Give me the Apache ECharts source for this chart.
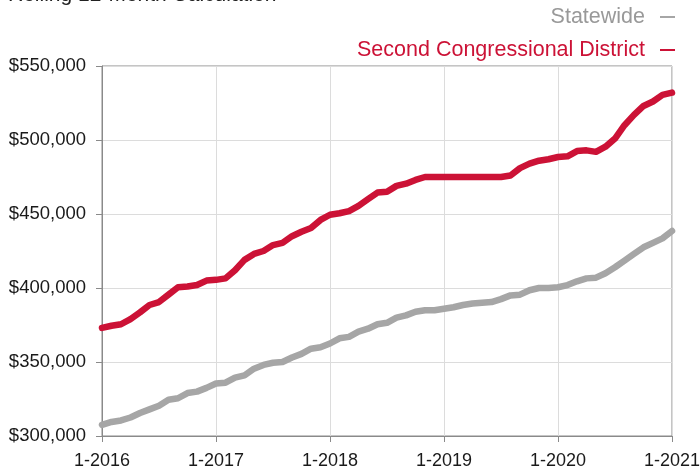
<!DOCTYPE html>
<html>
<head>
<meta charset="utf-8">
<script src="https://cdn.jsdelivr.net/npm/echarts@6/dist/echarts.min.js"></script>
<style>html,body{margin:0;padding:0;background:#fff;}#c{width:700px;height:468px;}</style>
</head>
<body>
<div id="c"></div>
<script>
var titleText = 'Rolling 12-Month Calculation';
var seriesNames = ['Statewide', 'Second Congressional District'];
var years = [2016, 2017, 2018, 2019, 2020, 2021];
var yTicks = [300000, 350000, 400000, 450000, 500000, 550000];

var statewide = [
  307500, 309500, 310500, 312500, 315500, 318000, 320500, 324500, 325500, 329000, 330000, 332500,
  335500, 336000, 339500, 341000, 345500, 348000, 349500, 350000, 353000, 355500, 359000, 360000,
  362500, 366000, 367000, 370500, 372500, 375500, 376500, 380000, 381500, 384000, 385000, 385000,
  386000, 387000, 388500, 389500, 390000, 390500, 392500, 395000, 395500, 398500, 400000, 400000,
  400500, 402000, 404500, 406500, 407000, 410000, 414000, 418500, 423000, 427500, 430500, 433500,
  438500
];
var district = [
  373000, 374500, 375500, 379000, 383500, 388500, 390500, 395500, 400500, 401000, 402000, 405000,
  405500, 406500, 412000, 419000, 423000, 425000, 429000, 430500, 435000, 438000, 440500, 446000,
  449500, 450500, 452000, 455500, 460000, 464500, 465000, 469000, 470500, 473000, 475000, 475000,
  475000, 475000, 475000, 475000, 475000, 475000, 475000, 476000, 481000, 484000, 486000, 487000,
  488500, 489000, 492500, 493000, 492000, 495500, 501000, 510000, 517000, 523000, 526000, 530500,
  532000
];

// monthly categories "M-YYYY"
var months = [];
for (var y = years[0]; y < years[years.length - 1]; y++) {
  for (var m = 1; m <= 12; m++) months.push(m + '-' + y);
}
months.push('1-' + years[years.length - 1]);

var RED = '#cc1236', GRAY = '#a6a6a6';
var FONT = '"Liberation Sans", Arial, sans-serif';

var chart = echarts.init(document.getElementById('c'));
chart.setOption({
  animation: false,
  backgroundColor: '#fff',
  title: {
    text: titleText, left: 3, top: -20,
    textStyle: { fontFamily: FONT, fontSize: 21, fontWeight: 'normal', color: '#222' }
  },
  legend: {
    orient: 'vertical', right: 25, top: 6, padding: 0, align: 'right', itemGap: 11,
    icon: 'rect', itemWidth: 15, itemHeight: 2,
    textStyle: { fontFamily: FONT, fontSize: 21.5, padding: [0, 10, 0, 0] },
    data: [
      { name: seriesNames[0], textStyle: { color: '#999999' } },
      { name: seriesNames[1], textStyle: { color: RED } }
    ]
  },
  grid: {
    left: 102, right: 28, top: 66, bottom: 32, containLabel: false, outerBoundsMode: 'none',
    show: true, borderColor: '#8a8a8a', borderWidth: 1
  },
  xAxis: {
    type: 'category', data: months, boundaryGap: false,
    axisLine: { lineStyle: { color: '#8a8a8a', width: 1 } },
    axisTick: { show: true, interval: 11, length: 6, lineStyle: { color: '#8a8a8a' } },
    axisLabel: { interval: 11, margin: 16, fontFamily: FONT, fontSize: 18, color: '#1a1a1a' },
    splitLine: { show: true, interval: 11, lineStyle: { color: '#dcdcdc', width: 1 } }
  },
  yAxis: {
    type: 'value', min: yTicks[0], max: yTicks[yTicks.length - 1], interval: 50000,
    axisLine: { show: true, lineStyle: { color: '#8a8a8a', width: 1 } },
    axisTick: { show: true, length: 6, lineStyle: { color: '#8a8a8a' } },
    axisLabel: {
      margin: 16, fontFamily: FONT, fontSize: 18.5, color: '#1a1a1a',
      formatter: function (v) { return '$' + v.toLocaleString('en-US'); }
    },
    splitLine: { show: true, lineStyle: { color: '#dcdcdc', width: 1 } }
  },
  series: [
    {
      name: seriesNames[0], type: 'line', data: statewide, showSymbol: false, symbol: 'none',
      itemStyle: { color: GRAY },
      lineStyle: { color: GRAY, width: 6.5, join: 'round', cap: 'round' }
    },
    {
      name: seriesNames[1], type: 'line', data: district, showSymbol: false, symbol: 'none',
      itemStyle: { color: RED },
      lineStyle: { color: RED, width: 6.5, join: 'round', cap: 'round' }
    }
  ]
});
</script>
</body>
</html>
